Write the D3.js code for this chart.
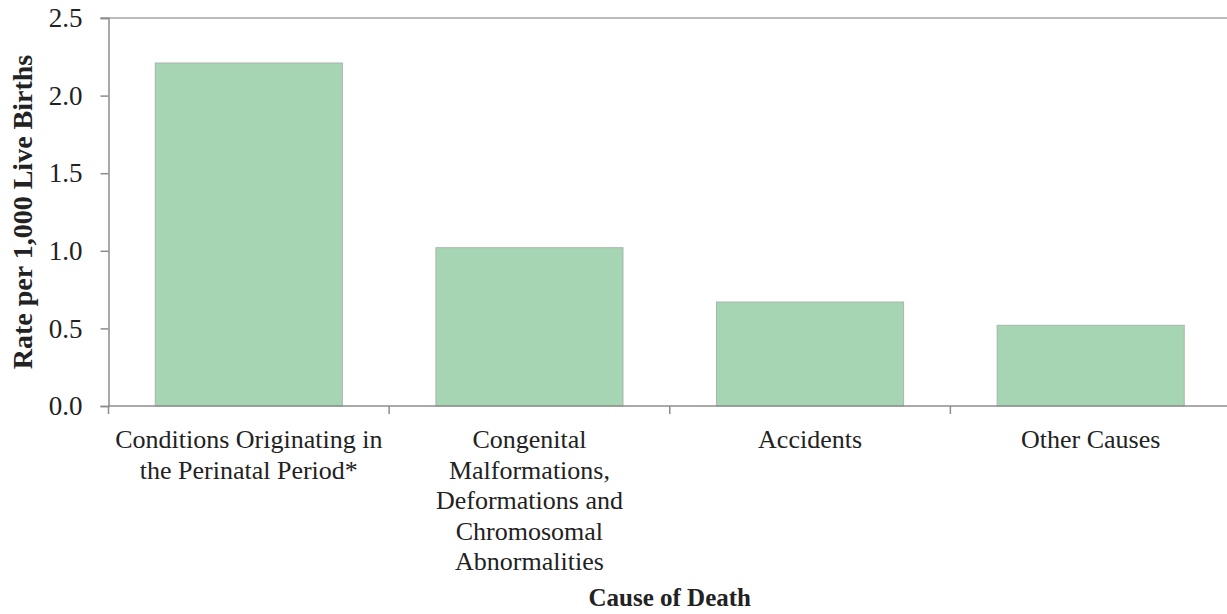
<!DOCTYPE html>
<html>
<head>
<meta charset="utf-8">
<script src="https://cdn.jsdelivr.net/npm/d3@7"></script>
<style>
  body { margin: 0; background: #fff; }
</style>
</head>
<body>
<div id="chart"></div>
<script>
// Chart data
const causes = [
    ['Conditions Originating in', 'the Perinatal Period*'],
    ['Congenital', 'Malformations,', 'Deformations and', 'Chromosomal', 'Abnormalities'],
    ['Accidents'],
    ['Other Causes']
];
const causeKeys = ['perinatal', 'congenital', 'accidents', 'other'];
const rates = [2.21, 1.02, 0.67, 0.52];
const yTicks = [0, 0.5, 1.0, 1.5, 2.0, 2.5];

const FONT = "'Liberation Serif', 'DejaVu Serif', serif";
const W = 1227, H = 614;
const margin = { top: 18, right: -4, bottom: 208, left: 108.5 };
const plotH = H - margin.top - margin.bottom;

const svg = d3.select('#chart')
    .append('svg')
    .attr('width', W)
    .attr('height', H)
    .style('font-family', FONT);

// X: band scale, bars take 2/3 of each band
const xScale = d3.scaleBand()
    .domain(causeKeys)
    .range([margin.left, W - margin.right])
    .paddingInner(1 / 3)
    .paddingOuter(1 / 6);

const yScale = d3.scaleLinear()
    .domain([0, 2.5])
    .range([margin.top + plotH, margin.top]);

// top border line at max value
svg.append('line')
    .attr('x1', margin.left - 8)
    .attr('x2', W)
    .attr('y1', yScale(2.5))
    .attr('y2', yScale(2.5))
    .attr('stroke', '#a6a6a6')
    .attr('stroke-width', 1.5);

// Y axis
const yAxis = svg.append('g')
    .attr('transform', `translate(${margin.left},0)`)
    .call(d3.axisLeft(yScale).tickValues(yTicks).tickFormat(d3.format('.1f')).tickSize(8).tickPadding(18));
yAxis.attr('font-family', null).attr('font-size', null);
yAxis.select('.domain').attr('stroke', '#8c8c8c').attr('stroke-width', 1.5);
yAxis.selectAll('.tick line').attr('stroke', '#8c8c8c').attr('stroke-width', 1.5);
yAxis.selectAll('.tick text')
    .style('font-size', '27px')
    .style('font-family', FONT)
    .attr('fill', '#222');

// Bars
svg.selectAll('rect.bar')
    .data(rates)
    .enter()
    .append('rect')
    .attr('class', 'bar')
    .attr('x', (d, i) => xScale(causeKeys[i]))
    .attr('y', d => yScale(d))
    .attr('width', xScale.bandwidth())
    .attr('height', d => yScale(0) - yScale(d))
    .attr('fill', '#a5d5b2')
    .attr('stroke', '#a8b5ab')
    .attr('stroke-width', 1);

// X axis line
const y0 = yScale(0);
svg.append('line')
    .attr('x1', margin.left)
    .attr('x2', W)
    .attr('y1', y0)
    .attr('y2', y0)
    .attr('stroke', '#8c8c8c')
    .attr('stroke-width', 1.5);

// X tick marks at band boundaries
const step = xScale.step();
const bounds = [xScale(causeKeys[0]) - step / 6].concat(causeKeys.map(k => xScale(k) - step / 6 + step));
svg.selectAll('line.xtick')
    .data(bounds)
    .enter()
    .append('line')
    .attr('class', 'xtick')
    .attr('x1', d => d)
    .attr('x2', d => d)
    .attr('y1', y0)
    .attr('y2', y0 + 8)
    .attr('stroke', '#8c8c8c')
    .attr('stroke-width', 1.5);

// Category labels
const labels = svg.selectAll('text.cat')
    .data(causes)
    .enter()
    .append('text')
    .attr('class', 'cat')
    .attr('text-anchor', 'middle')
    .attr('fill', '#222')
    .style('font-size', '26px')
    .attr('x', (d, i) => xScale(causeKeys[i]) + xScale.bandwidth() / 2)
    .attr('y', y0 + 42);
labels.selectAll('tspan')
    .data(d => d)
    .enter()
    .append('tspan')
    .attr('x', function() { return d3.select(this.parentNode).attr('x'); })
    .attr('dy', (d, i) => i === 0 ? 0 : 30.5)
    .text(d => d);

// Axis titles
svg.append('text')
    .attr('text-anchor', 'middle')
    .attr('fill', '#222')
    .style('font-size', '25px')
    .style('font-weight', 'bold')
    .attr('x', xScale.range()[0] + (xScale.range()[1] - xScale.range()[0]) / 2)
    .attr('y', 606)
    .text('Cause of Death');

svg.append('text')
    .attr('text-anchor', 'middle')
    .attr('fill', '#222')
    .style('font-size', '28px')
    .style('font-weight', 'bold')
    .attr('transform', `translate(32, ${(yScale(0) + yScale(2.5)) / 2}) rotate(-90)`)
    .text('Rate per 1,000 Live Births');
</script>
</body>
</html>
